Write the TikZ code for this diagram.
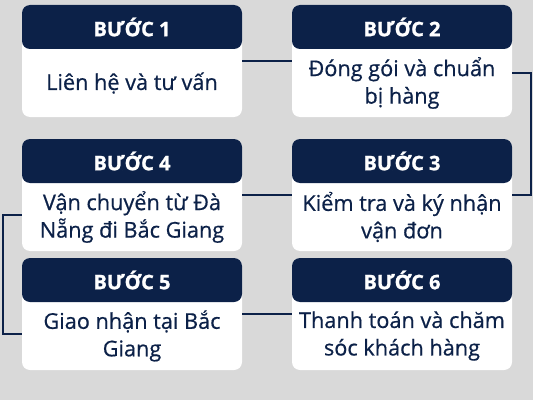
\documentclass[tikz,border=0pt]{standalone}
\usepackage{fontspec}
\setmainfont{Open Sans}
\newfontfamily\headfont{Open Sans Bold}[FakeBold=1.2]
\newfontfamily\bodyfont{Open Sans}[FakeBold=0.6]
\usetikzlibrary{positioning}
\definecolor{navy}{HTML}{0C2148}
\definecolor{bgray}{HTML}{D9D9D9}
\begin{document}
\begin{tikzpicture}[x=1pt, y=1pt,
	card/.style={fill=white, rounded corners=8pt, minimum width=220pt, minimum height=112pt, inner sep=0pt},
	head/.style={fill=navy, rounded corners=8pt, minimum width=220pt, minimum height=44pt, inner sep=0pt, text=white, font=\headfont\fontsize{20}{24}\selectfont},
	body/.style={minimum width=220pt, minimum height=68pt, inner sep=0pt, align=center, text=navy, font=\bodyfont\fontsize{21.7}{27.5}\selectfont},
	link/.style={draw=navy, line width=2.2pt}]
				\fill[bgray] (0,0) rectangle (533,400);
				
				\node[card] (c1) at (132,339) {};
				\node[head, below=0pt of c1.north] (h1) {BƯỚC 1};
				\node[body, above=0pt of c1.south] (b1) {Liên hệ và tư vấn};
				
				\node[card] (c2) at (402,339) {};
				\node[head, below=0pt of c2.north] (h2) {BƯỚC 2};
				\node[body, above=0pt of c2.south] (b2) {Đóng gói và chuẩn\\bị hàng};
				
				\node[card] (c3) at (402,205) {};
				\node[head, below=0pt of c3.north] (h3) {BƯỚC 3};
				\node[body, above=0pt of c3.south] (b3) {Kiểm tra và ký nhận\\vận đơn};
				
				\node[card] (c4) at (132,205) {};
				\node[head, below=0pt of c4.north] (h4) {BƯỚC 4};
				\node[body, above=0pt of c4.south] (b4) {Vận chuyển từ Đà\\Nẵng đi Bắc Giang};
				
				\node[card] (c5) at (132,86) {};
				\node[head, below=0pt of c5.north] (h5) {BƯỚC 5};
				\node[body, above=0pt of c5.south] (b5) {Giao nhận tại Bắc\\Giang};
				
				\node[card] (c6) at (402,86) {};
				\node[head, below=0pt of c6.north] (h6) {BƯỚC 6};
				\node[body, above=0pt of c6.south] (b6) {Thanh toán và chăm\\sóc khách hàng};
				
				\path[link] (c1.east) -- (c2.west);
				\path[link] ([yshift=-12pt]c2.east) -- ++(19,0) |- (c3.east);
				\path[link] (c3.west) -- (c4.east);
				\path[link] ([yshift=-20pt]c4.west) -- ++(-18.5,0) |- ([yshift=-20pt]c5.west);
				\path[link] (c5.east) -- (c6.west);
				\end{tikzpicture}
\end{document}
